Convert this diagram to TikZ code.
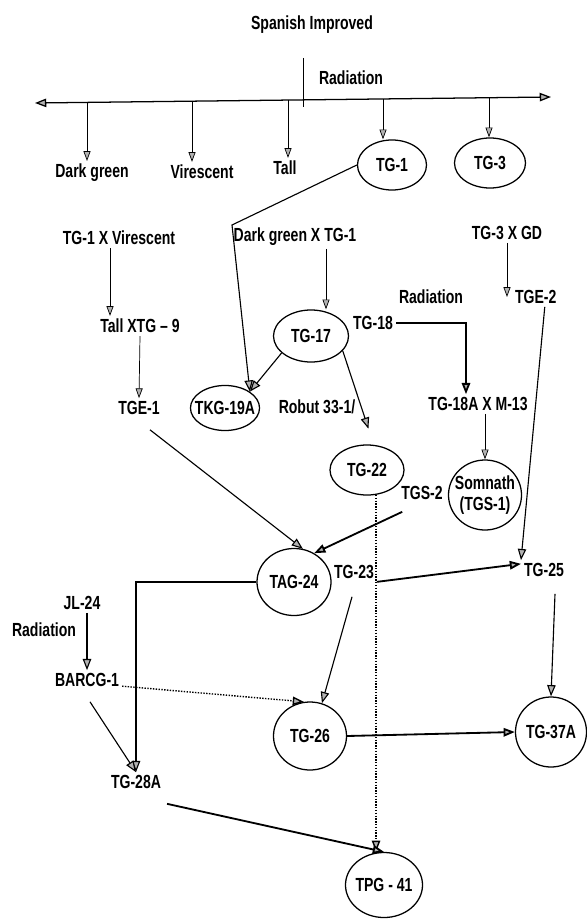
\documentclass[tikz,border=0pt]{standalone}
\usepackage{fontspec}
\setmainfont{Liberation Sans}[FakeStretch=0.74]
\usetikzlibrary{shapes.geometric, arrows.meta, calc}

\begin{document}
\begin{tikzpicture}[x=0.025cm, y=-0.025cm,
        font=\fontsize{13.5}{15}\selectfont\bfseries,
        lbl/.style={inner sep=2pt},
        var/.style={draw, ellipse, line width=0.9pt, inner xsep=-4pt, inner ysep=0pt, align=center},
        tarr/.style={-{Triangle[length=7pt, width=5pt, fill=gray!60]}, line width=0.5pt},
        arr/.style={-{Triangle[length=8pt, width=6pt, fill=gray!60]}, line width=0.8pt},
        harr/.style={-{Triangle[length=8pt, width=6pt, fill=gray!60]}, line width=1.3pt},
        darr/.style={-{Triangle[length=8pt, width=6pt, fill=gray!60]}, line width=1pt, densely dotted}
      ]
        \useasboundingbox (0,0) rectangle (586,919);

        % parent and first radiation mutants
        \node[lbl] (spanish) at (312,25) {Spanish Improved};
        \node[lbl] (rad1) at (351,78) {Radiation};
        \coordinate (tkt) at (303,58);
        \coordinate (tkb) at (303,107);
        \coordinate (axl) at (35,103);
        \coordinate (axr) at (551,97);
        \draw[line width=0.6pt] (tkt) -- (tkb);
        \draw[line width=0.9pt, {Triangle[length=8pt, width=6pt, fill=gray!60]}-{Triangle[length=8pt, width=6pt, fill=gray!60]}] (axl) -- (axr);

        \node[lbl] (dkgreen) at (92,173) {Dark green};
        \node[lbl] (viresc) at (202,172) {Virescent};
        \node[lbl] (tall) at (285,168) {Tall};
        \node[var, minimum width=1.725cm, minimum height=1.25cm] (tg1) at (392,165) {TG-1};
        \node[var, minimum width=1.775cm, minimum height=1.25cm] (tg3) at (490,163) {TG-3};

        \coordinate (ax1) at (87,102);
        \coordinate (ax2) at (192,101);
        \coordinate (ax3) at (288,100);
        \coordinate (ax4) at (383,99);
        \coordinate (ax5) at (489,98);
        \draw[tarr] (ax1) -- (ax1 |- dkgreen.north);
        \draw[tarr] (ax2) -- (ax2 |- viresc.north);
        \draw[tarr] (ax3) -- (ax3 |- tall.north);
        \draw[tarr] (ax4) -- (ax4 |- tg1.north);
        \draw[tarr] (ax5) -- (ax5 |- tg3.north);

        % crosses
        \node[lbl] (tg1xv) at (119,238) {TG-1 X Virescent};
        \node[lbl] (dgxtg1) at (295,237) {Dark green X TG-1};
        \node[lbl] (tg3xgd) at (507,233) {TG-3 X GD};
        \node[lbl] (rad2) at (431,297) {Radiation};
        \node[lbl, anchor=west] (tge2) at (512,297) {TGE-2};
        \node[lbl] (tallx) at (140,326) {Tall XTG -- 9};
        \node[var, minimum width=1.875cm, minimum height=1.3cm] (tg17) at (311,336) {TG-17};
        \node[lbl] (tg18) at (373,323) {TG-18};
        \node[lbl] (tge1) at (139,408) {TGE-1};
        \node[var, minimum width=1.675cm, minimum height=1.125cm] (tkg19a) at (225,408) {TKG-19A};
        \node[lbl] (robut) at (317,407) {Robut 33-1/};
        \node[lbl] (tg18a) at (478,404) {TG-18A X M-13};

        \coordinate (bend) at (232,225);
        \draw[arr] (tg1.west) -- (bend) -- (tkg19a.north east);
        \draw[arr] (tg17.210) -- (tkg19a.north east);
        \draw[tarr] ($(tg1xv.south)+(-9,0)$) coordinate (v1) -- (v1 |- tallx.north);
        \draw[tarr] (tallx.south) -- (tge1.north);
        \draw[tarr] ($(dgxtg1.south)+(31,0)$) coordinate (v2) -- (v2 |- tg17.north);
        \draw[tarr] (tg3xgd.south) -- (tg3xgd.south |- tge2.west);
        \draw[harr] (tg18.east) -| ($(tg18a.north)+(-12,0)$);

        % second generation
        \node[var, minimum width=1.85cm, minimum height=1.25cm] (tg22) at (367,470) {TG-22};
        \node[lbl] (tgs2) at (422,493) {TGS-2};
        \node[var, minimum width=1.825cm, minimum height=1.75cm] (somnath) at (485,495) {Somnath\\(TGS-1)};
        \node[var, minimum width=1.85cm, minimum height=1.675cm] (tag24) at (294,582) {TAG-24};
        \node[lbl] (tg23) at (354,572) {TG-23};
        \node[lbl] (tg25) at (544,570) {TG-25};

        \draw[arr, shorten >=12pt] (tg17.-25) -- (tg22.75);
        \draw[tarr] (tg18a.south -| somnath.north) -- (somnath.north);
        \draw[arr] ($(tge2.south)+(9,0)$) -- (tg25.north west);
        \draw[arr] ($(tge1.south)+(11,12)$) -- (tag24.75);
        \draw[harr] ($(tgs2.south west)+(4,9)$) -- (tag24.55);
        \draw[harr] (tg23.south east) -- (tg25.165);

        % last generation
        \node[lbl] (jl24) at (82,603) {JL-24};
        \node[lbl] (rad3) at (44,630) {Radiation};
        \node[lbl] (barcg) at (87,680) {BARCG-1};
        \node[lbl] (tg28a) at (136,782) {TG-28A};
        \node[var, minimum width=1.825cm, minimum height=1.7cm] (tg26) at (310,736) {TG-26};
        \node[var, minimum width=1.775cm, minimum height=1.75cm] (tg37a) at (551,732) {TG-37A};
        \node[var, minimum width=1.925cm, minimum height=1.625cm] (tpg41) at (384,885) {TPG - 41};

        \draw[darr] (tg22.-70) -- (tg22.-70 |- tpg41.north);
        \draw[arr] (tag24.west) -| (tg28a.north);
        \draw[arr] (jl24.south -| barcg.north) -- (barcg.north);
        \draw[darr] (barcg.-10) -- (tg26.100);
        \draw[arr] ($(barcg.south)+(3,12)$) -- (tg28a.north);
        \draw[arr] ($(tg23.south)+(-2,15)$) -- (tg26.70);
        \draw[harr] (tg26.east) -- (tg37a.west);
        \draw[arr] ($(tg25.south)+(11,14)$) -- (tg37a.north);
        \draw[harr] ($(tg28a.south east)+(3,12)$) -- (tpg41.north);
      \end{tikzpicture}
\end{document}
